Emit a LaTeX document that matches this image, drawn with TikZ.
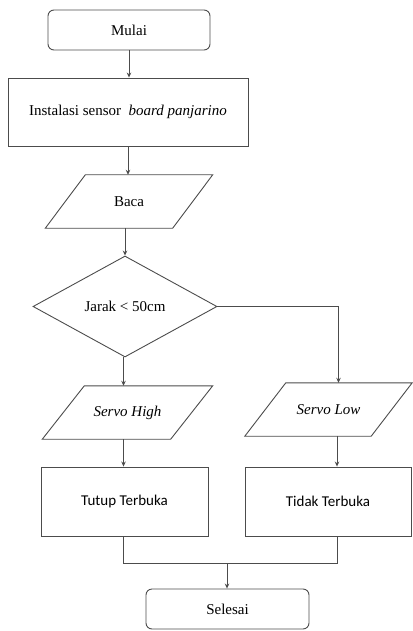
\documentclass[tikz,border=0pt]{standalone}
\usepackage{fontspec}
\setmainfont{Liberation Serif}
\newfontfamily\calfont{Carlito}
\usetikzlibrary{shapes.geometric,arrows.meta}
\begin{document}
\begin{tikzpicture}[x=1pt,y=-1pt,
  every node/.style={font=\fontsize{15}{18}\selectfont},
  line/.style={draw=black!70,line width=0.9pt},
  arr/.style={line,-{Stealth[length=5pt,width=4.5pt]}},
  term/.style={line,rounded corners=6pt,minimum width=162pt,minimum height=40pt,inner sep=0pt},
  proc/.style={line,rectangle,inner sep=0pt},
  iobox/.style={inner sep=0pt,minimum height=53pt},
  dec/.style={line,diamond,inner sep=0pt,minimum width=184pt,minimum height=101pt,shape aspect=1.8}]
\useasboundingbox (0,0) rectangle (412,631);
% nodes
\node[term] (mulai) at (129,30) {Mulai};
\node[proc,minimum width=240pt,minimum height=68pt] (inst) at (128,112) {Instalasi sensor \ \textit{board panjarino}};
\node[iobox,minimum width=127pt] (baca) at (129,201.5) {Baca};
\node[dec] (jarak) at (125,306.5) {Jarak < 50cm};
\node[iobox,minimum width=128pt] (high) at (127.5,412.5) {\textit{Servo High}};
\node[iobox,minimum width=126pt] (low) at (328.5,409.5) {\textit{Servo Low}};
\node[proc,minimum width=167pt,minimum height=69pt,font=\calfont\fontsize{15}{18}\selectfont] (tutup) at (124.5,501.5) {Tutup Terbuka};
\node[proc,minimum width=166pt,minimum height=69pt,font=\calfont\fontsize{15}{18}\selectfont] (tidak) at (328,501.5) {Tidak Terbuka};
\node[term,minimum width=163pt] (selesai) at (227.5,609) {Selesai};
% parallelograms
\foreach \n/\o in {baca/20,high/21,low/20.5}{
  \draw[line] ([xshift=\o pt]\n.north west) -- ([xshift=\o pt]\n.north east)
    -- ([xshift=-\o pt]\n.south east) -- ([xshift=-\o pt]\n.south west) -- cycle;
}
% helper columns
\coordinate (colL) at (123.5,0);
\coordinate (colR) at (338.5,0);
\coordinate (merge) at (227,563);
% connectors
\draw[arr] (mulai.south) -- (mulai.south |- inst.north);
\draw[arr] (inst.south) -- (inst.south |- baca.north);
\draw[arr] (baca.south -| jarak.north) -- (jarak.north);
\draw[arr] (jarak.south -| colL) -- (high.north -| colL);
\draw[arr] (jarak.east) -| (low.north -| colR);
\draw[arr] (high.south -| colL) -- (tutup.north -| colL);
\draw[arr] ([xshift=-1.5pt]low.south -| colR) -- ([xshift=-1.5pt]tidak.north -| colR);
\draw[line] (tutup.south -| colL) |- (merge);
\draw[line] ([xshift=-1.5pt]tidak.south -| colR) |- (merge);
\draw[arr] (merge) -- (merge |- selesai.north);
\end{tikzpicture}
\end{document}
